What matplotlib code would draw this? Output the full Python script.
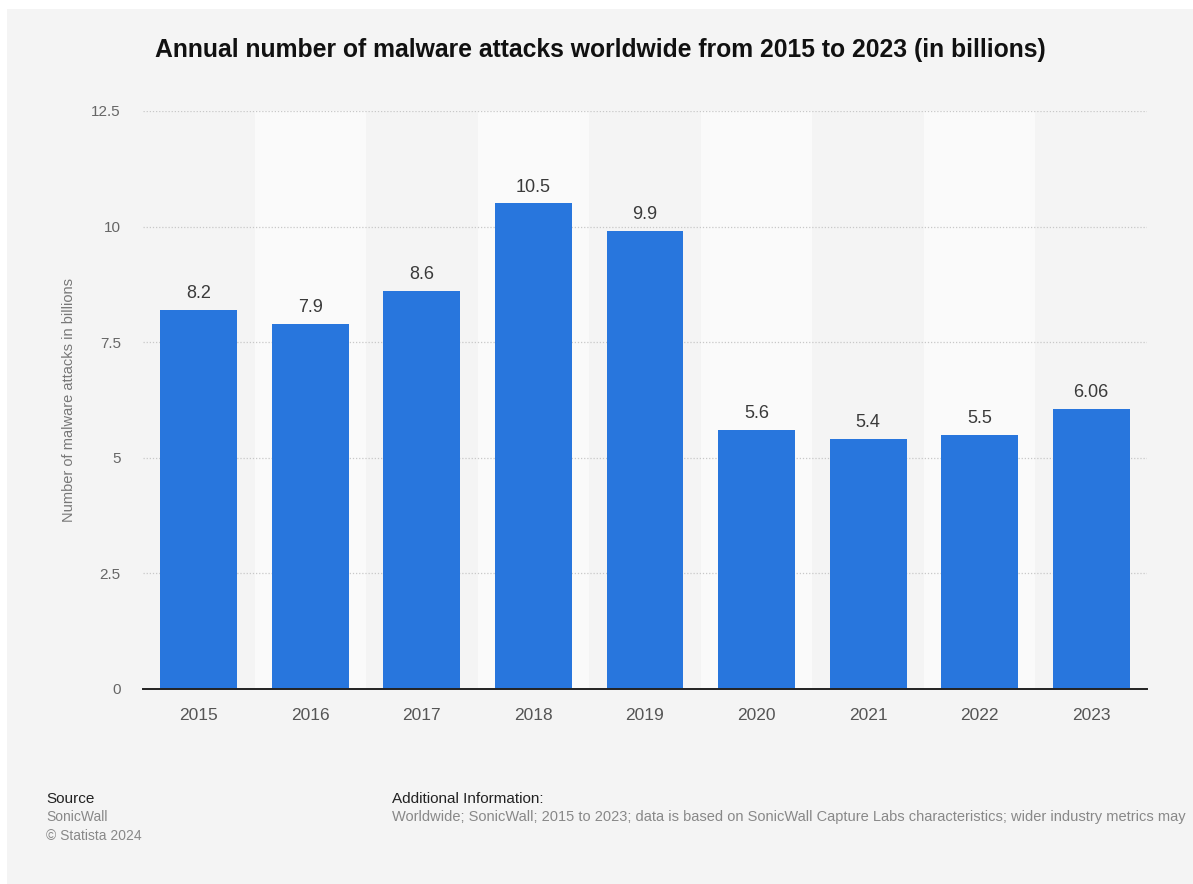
import matplotlib.pyplot as plt
from matplotlib.patches import Rectangle

plt.rcParams['font.family'] = ['Liberation Sans', 'DejaVu Sans']

# data
years = ['2015', '2016', '2017', '2018', '2019', '2020', '2021', '2022', '2023']
attacks = [8.2, 7.9, 8.6, 10.5, 9.9, 5.6, 5.4, 5.5, 6.06]
value_labels = ['8.2', '7.9', '8.6', '10.5', '9.9', '5.6', '5.4', '5.5', '6.06']
y_ticks = [0, 2.5, 5, 7.5, 10, 12.5]
y_tick_labels = ['0', '2.5', '5', '7.5', '10', '12.5']

W, H = 1193, 884
bg = '#f4f4f4'
band = '#fafafa'
bar_color = '#2876dd'

fig = plt.figure(figsize=(W / 100, H / 100), dpi=100, facecolor='white')
# grey card behind everything
fig.patches.append(Rectangle((7 / W, 0), 1 - 7 / W, 1 - 9 / H,
                             transform=fig.transFigure, facecolor=bg,
                             edgecolor='none', zorder=-10))

ax = fig.add_axes([143 / W, 1 - 689 / H, (1147 - 143) / W, (689 - 111) / H])
ax.set_facecolor(bg)

x = list(range(len(years)))
# alternating column bands
for i in x:
    if i % 2 == 1:
        ax.axvspan(i - 0.5, i + 0.5, color=band, zorder=0, lw=0)

for yt in y_ticks[1:]:
    ax.axhline(yt, color='#c8c8c8', lw=0.9, ls=(0, (1, 1.5)), zorder=1)

bars = ax.bar(x, attacks, width=0.69, color=bar_color, zorder=2)
for xi, v, lab in zip(x, attacks, value_labels):
    ax.text(xi, v + 0.17, lab, ha='center', va='bottom', fontsize=13,
            color='#3a3a3a', zorder=3)

ax.set_xlim(-0.5, len(years) - 0.5)
ax.set_ylim(0, 12.5)
ax.set_xticks(x)
ax.set_xticklabels(years)
ax.set_yticks(y_ticks)
ax.set_yticklabels(y_tick_labels)
ax.tick_params(axis='x', length=0, pad=14, labelsize=12.5, labelcolor='#555555')
ax.tick_params(axis='y', length=0, pad=16, labelsize=11, labelcolor='#666666')

for s in ['top', 'right', 'left']:
    ax.spines[s].set_visible(False)
ax.spines['bottom'].set_color('#222222')
ax.spines['bottom'].set_linewidth(1.4)
ax.spines['bottom'].set_zorder(4)

ax.set_ylabel('Number of malware attacks in billions', fontsize=10.5,
              color='#777777', labelpad=11)

fig.text(600 / W, 1 - 50 / H,
         'Annual number of malware attacks worldwide from 2015 to 2023 (in billions)',
         ha='center', va='center', fontsize=17.8, fontweight='bold', color='#111111')

# footer
fig.text(46 / W, 1 - 799 / H, 'Source', fontsize=11, color='#222222', va='center')
fig.text(46 / W, 1 - 817 / H, 'SonicWall', fontsize=10, color='#888888', va='center')
fig.text(46 / W, 1 - 836 / H, '\u00a9 Statista 2024', fontsize=10, color='#888888', va='center')
fig.text(392 / W, 1 - 799 / H, 'Additional Information:', fontsize=11,
         color='#222222', va='center')
fig.text(392 / W, 1 - 817 / H,
         'Worldwide; SonicWall; 2015 to 2023; data is based on SonicWall Capture Labs '
         'characteristics; wider industry metrics may',
         fontsize=10.5, color='#888888', va='center')

fig.savefig('out.png', dpi=100, facecolor=fig.get_facecolor())
